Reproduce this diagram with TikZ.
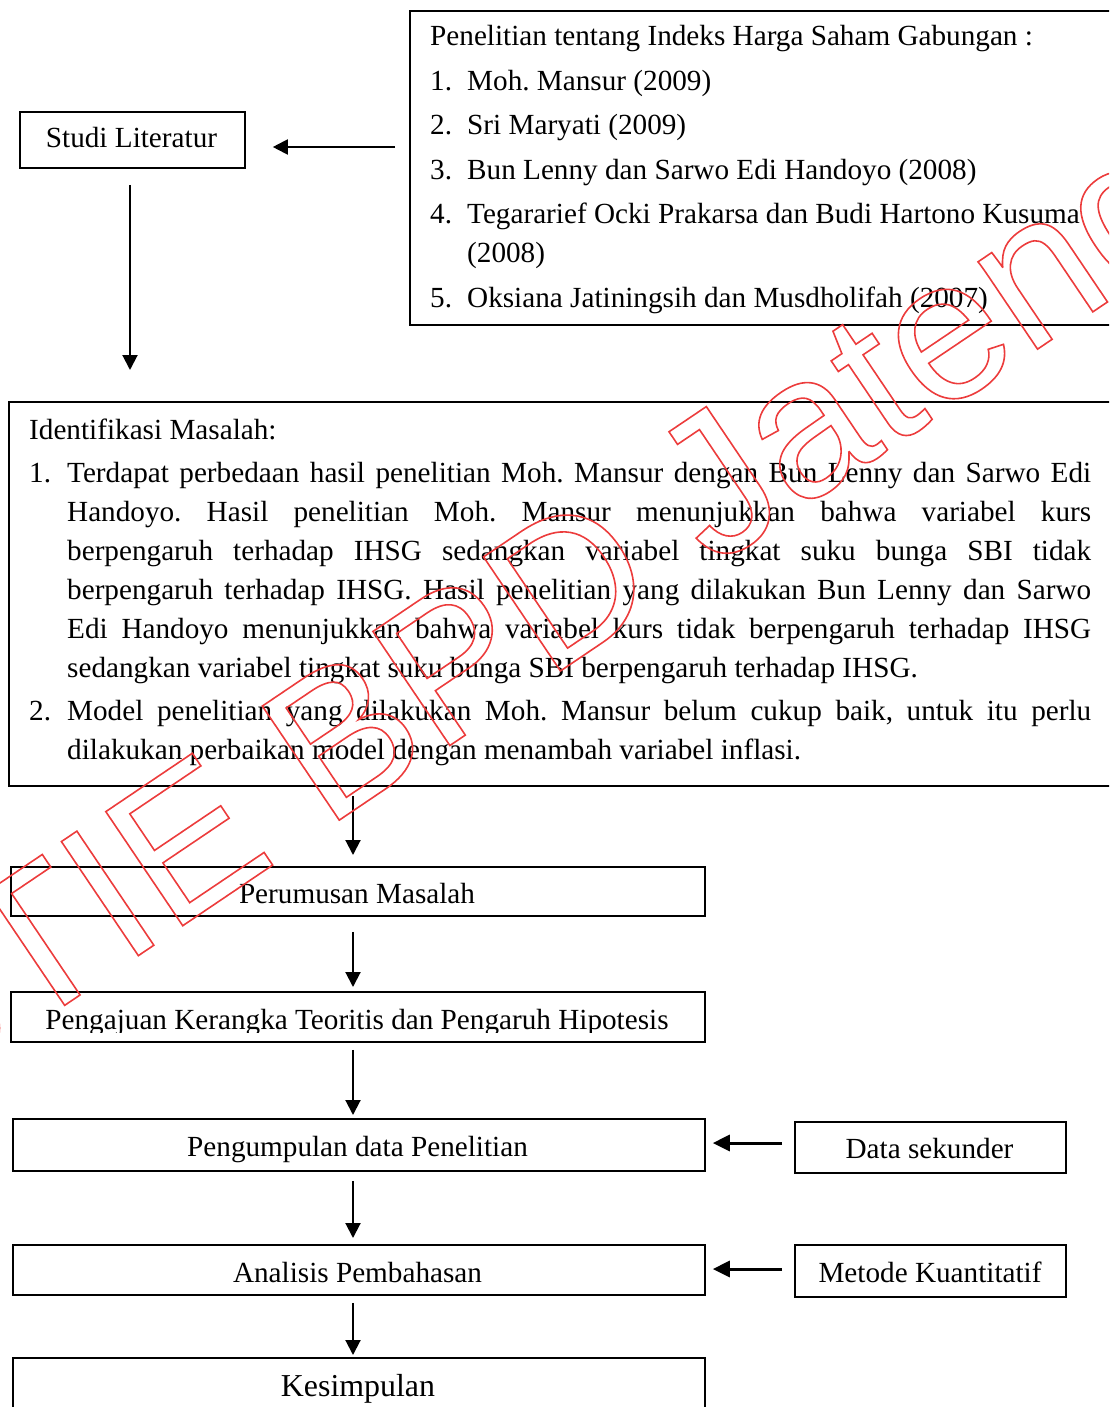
\documentclass[tikz,border=0pt]{standalone}
\usepackage{fontspec}
\setmainfont{Liberation Serif}
\newfontfamily\wmfont{Liberation Sans}
\usetikzlibrary{arrows.meta}
\definecolor{wmred}{RGB}{236,60,60}
\newcommand\outlinetext[1]{\special{pdf:literal direct 1 Tr 1.6 w}#1\special{pdf:literal direct 0 Tr}}
\newcommand\numitem[2]{\hangindent=#1\hangafter=1\noindent\makebox[#1][l]{#2}}
\begin{document}
\begin{tikzpicture}[x=1pt,y=-1pt,
  box/.style={draw=black,line width=1.8pt,anchor=north west,inner sep=0pt},
  txt/.style={anchor=base,inner sep=0pt,font=\fontsize{29.2pt}{39pt}\selectfont},
  para/.style={anchor=base west,inner sep=0pt,font=\fontsize{29.2pt}{39pt}\selectfont},
  arr/.style={line width=2pt,-{Triangle[length=15pt,width=15pt]}},
  harr/.style={line width=3pt,-{Triangle[length=17pt,width=16pt]}}]
\useasboundingbox (0,0) rectangle (1109,1407);
\clip (0,0) rectangle (1109,1407);

% boxes
\node[box,minimum width=711pt,minimum height=314pt] (pen) at (409,10) {};
\node[box,minimum width=225pt,minimum height=56pt] (stl) at (19,111) {};
\node[box,minimum width=1120pt,minimum height=384pt] (idm) at (8,401) {};
\node[box,minimum width=694pt,minimum height=49pt] (per) at (10,866) {};
\node[box,minimum width=694pt,minimum height=50pt] (pgj) at (10,991) {};
\node[box,minimum width=692pt,minimum height=52pt] (pgm) at (12,1118) {};
\node[box,minimum width=271pt,minimum height=51pt] (dat) at (794,1121) {};
\node[box,minimum width=692pt,minimum height=50pt] (ana) at (12,1244) {};
\node[box,minimum width=271pt,minimum height=52pt] (met) at (794,1244) {};
\node[box,minimum width=692pt,minimum height=80pt] (kes) at (12,1357) {};

% texts
\node[para] (tpen) at (430,46) {\parbox[t]{680pt}{\raggedright\parindent=0pt\parskip=5.5pt\frenchspacing
Penelitian tentang Indeks Harga Saham Gabungan :\par
\numitem{37pt}{1.}Moh. Mansur (2009)\par
\numitem{37pt}{2.}Sri Maryati (2009)\par
\numitem{37pt}{3.}Bun Lenny dan Sarwo Edi Handoyo (2008)\par
\numitem{37pt}{4.}Tegararief Ocki Prakarsa dan Budi Hartono Kusuma\newline (2008)\par
\numitem{37pt}{5.}Oksiana Jatiningsih dan Musdholifah (2007)\par}};
\node[txt] (tstl) at (131.5,148) {Studi Literatur};
\node[para] (tidm) at (29,439) {\parbox[t]{1062pt}{\parindent=0pt\parskip=4pt\frenchspacing\tolerance=10000\hbadness=10000
Identifikasi Masalah:\par
\numitem{38pt}{1.}Terdapat perbedaan hasil penelitian Moh. Mansur dengan Bun Lenny dan Sarwo Edi\linebreak
Handoyo. Hasil penelitian Moh. Mansur menunjukkan bahwa variabel kurs\linebreak
berpengaruh terhadap IHSG sedangkan variabel tingkat suku bunga SBI tidak\linebreak
berpengaruh terhadap IHSG. Hasil penelitian yang dilakukan Bun Lenny dan Sarwo\linebreak
Edi Handoyo menunjukkan bahwa variabel kurs tidak berpengaruh terhadap IHSG\linebreak
sedangkan variabel tingkat suku bunga SBI berpengaruh terhadap IHSG.\par
\numitem{38pt}{2.}Model penelitian yang dilakukan Moh. Mansur belum cukup baik, untuk itu perlu\linebreak
dilakukan perbaikan model dengan menambah variabel inflasi.\par}};
\node[txt] (tper) at (357,903) {Perumusan Masalah};
\begin{scope}
\clip (0,985) rectangle (720,1032);
\node[txt] (tpgj) at (357,1029) {Pengajuan Kerangka Teoritis dan Pengaruh Hipotesis};
\end{scope}
\node[txt] (tpgm) at (357.5,1156) {Pengumpulan data Penelitian};
\node[txt] (tdat) at (929.5,1158) {Data sekunder};
\node[txt] (tana) at (357.5,1282) {Analisis Pembahasan};
\node[txt] (tmet) at (930,1282) {Metode Kuantitatif};
\node[txt,font=\fontsize{31.9pt}{40pt}\selectfont] (tkes) at (358,1396) {Kesimpulan};

% connectors
\coordinate (ax) at (353,0);
\coordinate (ay1) at (0,147);
\coordinate (ay2) at (0,1143);
\coordinate (ay3) at (0,1269);
\draw[arr,shorten <=14pt,shorten >=27pt] (pen.west |- ay1) -- (stl.east |- ay1);
\draw[arr,shorten <=16pt,shorten >=31pt] (stl.south -| 130,0) -- (idm.north -| 130,0);
\draw[arr,shorten <=9pt,shorten >=11pt] (idm.south -| ax) -- (per.north -| ax);
\draw[arr,shorten <=15pt,shorten >=4pt] (per.south -| ax) -- (pgj.north -| ax);
\draw[arr,shorten <=7pt,shorten >=3pt] (pgj.south -| ax) -- (pgm.north -| ax);
\draw[arr,shorten <=9pt,shorten >=6pt] (pgm.south -| ax) -- (ana.north -| ax);
\draw[arr,shorten <=7pt,shorten >=2pt] (ana.south -| ax) -- (kes.north -| ax);
\draw[harr,shorten <=12pt,shorten >=7pt] (dat.west |- ay2) -- (pgm.east |- ay2);
\draw[harr,shorten <=12pt,shorten >=7pt] (met.west |- ay3) -- (ana.east |- ay3);

% watermark
\node[anchor=base west,inner sep=0pt,rotate=34,text=wmred,font=\wmfont\fontsize{200pt}{200pt}\selectfont] (wm) at (-89,1109) {\outlinetext{STIE BPD Jateng}};
\end{tikzpicture}
\end{document}
